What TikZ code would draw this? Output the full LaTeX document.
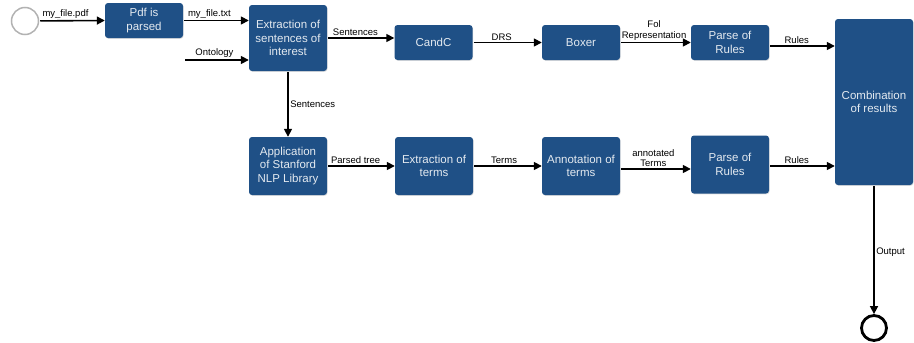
\documentclass[tikz,border=0pt]{standalone}
\usepackage{fontspec}
\setmainfont{Liberation Sans}
\usepackage{xcolor}
\usetikzlibrary{arrows.meta,shadows}

\definecolor{boxblue}{RGB}{31,80,134}

\tikzset{
    procbox/.style={fill=boxblue, text=white!88!boxblue, rounded corners=3pt,
        align=center, font=\fontsize{11.5}{13.5}\selectfont,
        minimum width=78pt, minimum height=35pt, inner sep=2pt,
        drop shadow={opacity=0.25, shadow xshift=0.6pt, shadow yshift=-0.8pt}},
    flow/.style={-{Triangle[length=8pt,width=8pt]}, line width=1.6pt, shorten <=1pt},
    lbl/.style={font=\fontsize{9.5}{10.5}\selectfont, inner sep=1.5pt, align=center}
}

\begin{document}
\begin{tikzpicture}[x=1pt, y=-1pt]
            \useasboundingbox (0,0) rectangle (914,343);

            % start and end
            \node[circle, draw=gray!60, line width=1.5pt, minimum size=27pt] (start) at (25,21) {};
            \node[circle, draw, line width=2.8pt, minimum size=25pt] (stop) at (874,328) {};

            % upper row
            \node[procbox] (pdf) at (144,20.5) {Pdf is\\parsed};
            \node[procbox, minimum height=66pt] (extr) at (288,38) {Extraction of\\sentences of\\interest};
            \node[procbox] (candc) at (433.5,42.5) {CandC};
            \node[procbox] (boxer) at (581,42.5) {Boxer};
            \node[procbox] (rulesA) at (730,42.5) {Parse of\\Rules};
            \node[procbox, minimum height=166pt] (comb) at (874,102) {Combination\\of results};

            % lower row
            \node[procbox, minimum height=58pt] (stanford) at (288,166) {Application\\of Stanford\\NLP Library};
            \node[procbox, minimum height=58pt] (terms) at (434,166) {Extraction of\\terms};
            \node[procbox, minimum height=58pt] (annot) at (581,166) {Annotation of\\terms};
            \node[procbox, minimum height=58pt] (rulesB) at (730,164.5) {Parse of\\Rules};

            \coordinate (onto) at (184,60);

            % connectors
            \draw[flow] (start) -- (pdf.west) node[lbl, above, pos=0.4] {my\_file.pdf};
            \draw[flow] (pdf.east) -- (pdf.east -| extr.west) node[lbl, above, pos=0.4] {my\_file.txt};
            \draw[flow] (onto) -- (onto -| extr.west) node[lbl, above, pos=0.47] {Ontology};
            \draw[flow] (extr.east) -- (extr.east -| candc.west) node[lbl, above, pos=0.42] {Sentences};
            \draw[flow] (candc) -- (boxer) node[lbl, above, pos=0.42] {DRS};
            \draw[flow] (boxer) -- (rulesA) node[lbl, above, pos=0.48] {Fol\\Representation};
            \draw[flow] ([yshift=-3.5pt]rulesA.east) -- ([yshift=-3.5pt]rulesA.east -| comb.west) node[lbl, above, pos=0.42] {Rules};

            \draw[flow] (extr.south) -- (stanford.north) node[lbl, right, midway] {Sentences};
            \draw[flow] (stanford) -- (terms) node[lbl, above, pos=0.42] {Parsed tree};
            \draw[flow] (terms) -- (annot) node[lbl, above, pos=0.45] {Terms};
            \draw[flow] ([yshift=-3pt]annot.east) -- ([yshift=-3pt]annot.east -| rulesB.west) node[lbl, above, pos=0.47] {annotated\\Terms};
            \draw[flow] ([yshift=-1.5pt]rulesB.east) -- ([yshift=-1.5pt]rulesB.east -| comb.west) node[lbl, above, pos=0.42] {Rules};

            \draw[flow] (comb.south) -- (stop.north) node[lbl, right, pos=0.52] {Output};
        \end{tikzpicture}
\end{document}
